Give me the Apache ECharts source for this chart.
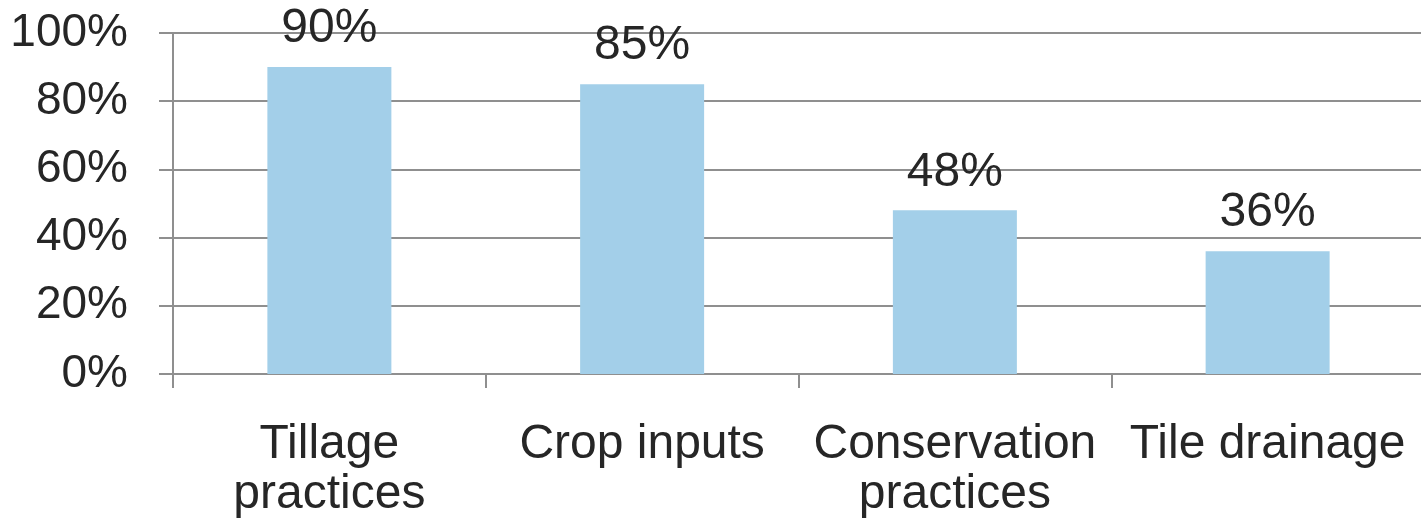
<!DOCTYPE html>
<html>
<head>
<meta charset="utf-8">
<script src="https://cdn.jsdelivr.net/npm/echarts@6/dist/echarts.min.js"></script>
<style>
html,body{margin:0;padding:0;background:#fff;overflow:hidden;width:1421px;height:525px;}
#c{width:1424px;height:525px;}
</style>
</head>
<body>
<div id="c"></div>
<script>
const categories = ["Tillage\npractices", "Crop inputs", "Conservation\npractices", "Tile drainage"];
const values = [90, 85, 48, 36];
const yTicks = [0, 20, 40, 60, 80, 100];

const chart = echarts.init(document.getElementById('c'), null, {renderer: 'canvas'});
const font = '"Liberation Sans", Arial, sans-serif';
const gridColor = '#8f8f8f';
chart.setOption({
  animation: false,
  grid: {left: 173, right: 0, top: 33, bottom: 151, containLabel: false},
  xAxis: {
    type: 'category',
    data: categories,
    axisLine: {show: true, lineStyle: {color: gridColor, width: 2}},
    axisTick: {show: true, length: 14, lineStyle: {color: gridColor, width: 2}},
    axisLabel: {
      color: '#262626', fontFamily: font, fontSize: 48, lineHeight: 50,
      margin: 46, interval: 0
    }
  },
  yAxis: {
    type: 'value',
    min: yTicks[0], max: yTicks[yTicks.length - 1], interval: 20,
    axisLine: {show: true, lineStyle: {color: gridColor, width: 2}},
    axisTick: {show: true, length: 14, lineStyle: {color: gridColor, width: 2}},
    splitLine: {show: true, lineStyle: {color: gridColor, width: 2}},
    axisLabel: {
      color: '#262626', fontFamily: font, fontSize: 46, margin: 45,
      formatter: v => v + '%'
    }
  },
  series: [{
    type: 'bar',
    data: values,
    barWidth: 124,
    itemStyle: {color: '#a3cfe9'},
    label: {
      show: true, position: 'top', distance: 14,
      color: '#262626', fontFamily: font, fontSize: 48, lineHeight: 48,
      formatter: p => p.value + '%'
    }
  }]
});
</script>
</body>
</html>
